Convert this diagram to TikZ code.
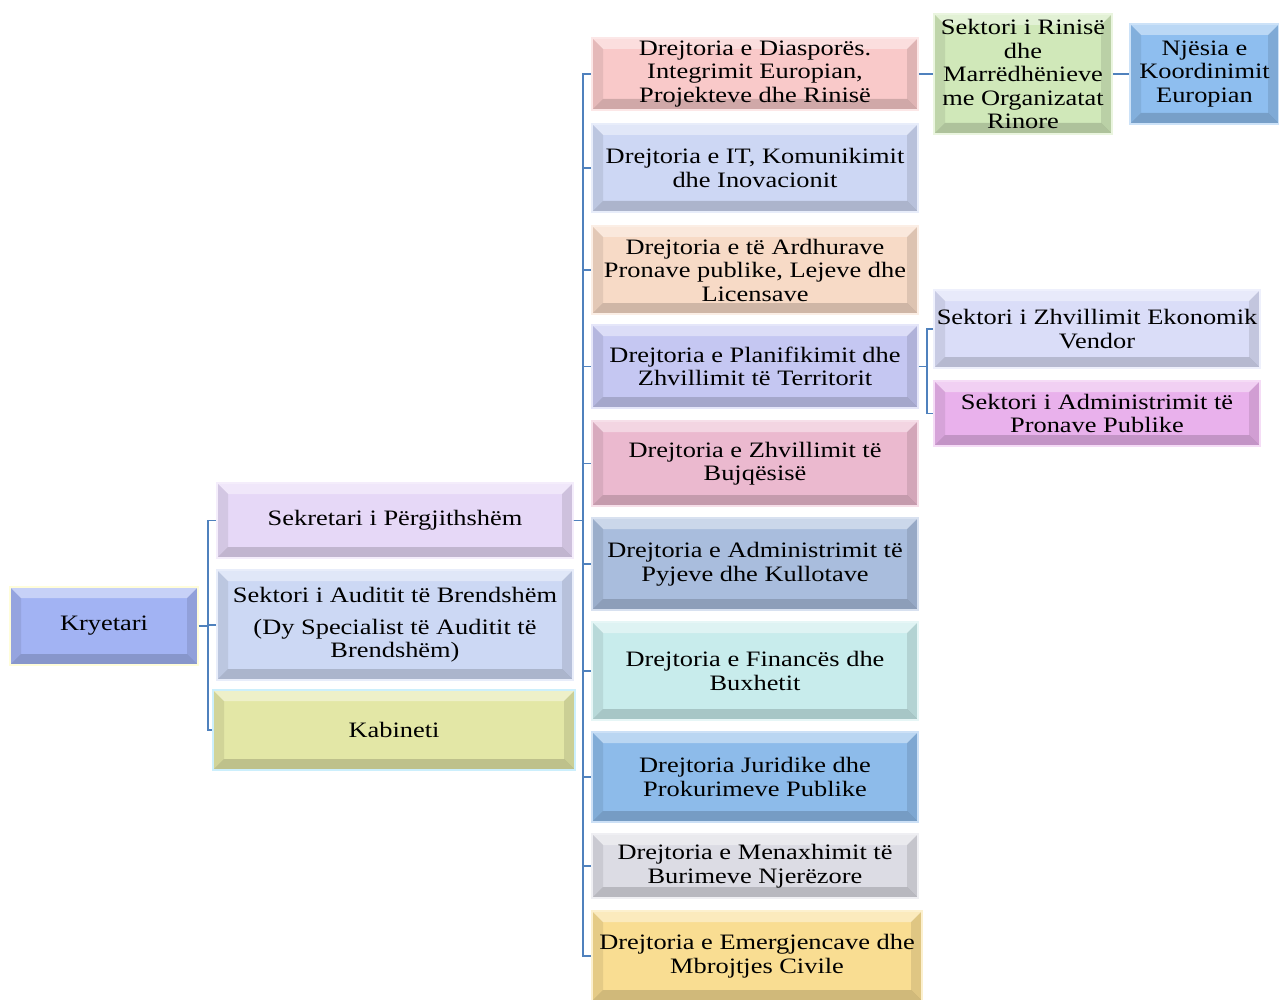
\documentclass[tikz,border=0pt]{standalone}
\usepackage{fontspec}
\setmainfont[FakeStretch=1.2]{Liberation Serif}
\usetikzlibrary{calc}
\definecolor{cblue}{HTML}{4F81BD}
\definecolor{ckry}{HTML}{A2B3F3}
\definecolor{csek}{HTML}{E6D8F7}
\definecolor{caud}{HTML}{CCD8F4}
\definecolor{ckab}{HTML}{E3E7A6}
\definecolor{cdA}{HTML}{F9C9C9}
\definecolor{cdB}{HTML}{CDD7F4}
\definecolor{cdC}{HTML}{F7DAC6}
\definecolor{cdD}{HTML}{C5C7F2}
\definecolor{cdE}{HTML}{EBB9CF}
\definecolor{cdF}{HTML}{A9BDDD}
\definecolor{cdG}{HTML}{C8ECEC}
\definecolor{cdH}{HTML}{8DBBEA}
\definecolor{cdI}{HTML}{DCDCE4}
\definecolor{cdJ}{HTML}{F9DD92}
\definecolor{crin}{HTML}{D0E8B9}
\definecolor{cnje}{HTML}{8EBEEF}
\definecolor{czh}{HTML}{DADDF8}
\definecolor{cadm}{HTML}{E9B1EC}
\newcommand\mybevel{%
 \fill[white,opacity=.4] (path picture bounding box.north west) -- (path picture bounding box.north east) -- ([xshift=-11pt,yshift=-11pt]path picture bounding box.north east) -- ([xshift=11pt,yshift=-11pt]path picture bounding box.north west) -- cycle;
 \fill[black,opacity=.08] (path picture bounding box.north west) -- ([xshift=11pt,yshift=-11pt]path picture bounding box.north west) -- ([xshift=11pt,yshift=11pt]path picture bounding box.south west) -- (path picture bounding box.south west) -- cycle;
 \fill[black,opacity=.1] (path picture bounding box.north east) -- ([xshift=-11pt,yshift=-11pt]path picture bounding box.north east) -- ([xshift=-11pt,yshift=11pt]path picture bounding box.south east) -- (path picture bounding box.south east) -- cycle;
 \fill[black,opacity=.16] (path picture bounding box.south west) -- ([xshift=11pt,yshift=11pt]path picture bounding box.south west) -- ([xshift=-11pt,yshift=11pt]path picture bounding box.south east) -- (path picture bounding box.south east) -- cycle;
}
\tikzset{
 bx/.style={fill=#1, draw=#1!45!white, line width=1.5pt, inner sep=0pt, align=center,
   font=\fontsize{22}{23.5}\selectfont, path picture={\mybevel}},
 conn/.style={draw=cblue, line width=1.8pt}
}
\begin{document}
\begin{tikzpicture}[x=1pt,y=-1pt]
\useasboundingbox[fill=white] (0,0) rectangle (1279,1000);
% left column
\node[bx=ckry, draw=yellow!15!white, minimum width=188pt, minimum height=78pt] (kry) at (104,626) {Kryetari};
\node[bx=csek, minimum width=356pt, minimum height=75pt] (sek) at (395,520.5) {Sekretari i Përgjithshëm};
\node[bx=caud, minimum width=356pt, minimum height=110pt] (aud) at (395,625) {Sektori i Auditit të Brendshëm\\[8pt](Dy Specialist të Auditit të\\Brendshëm)};
\node[bx=ckab, draw=cyan!20!white, minimum width=362pt, minimum height=80pt] (kab) at (394,730) {Kabineti};
% right column
\node[bx=cdA, minimum width=326pt, minimum height=72pt] (dA) at (755,74) {Drejtoria e Diasporës.\\Integrimit Europian,\\Projekteve dhe Rinisë};
\node[bx=cdB, minimum width=326pt, minimum height=88pt] (dB) at (755,168) {Drejtoria e IT, Komunikimit\\dhe Inovacionit};
\node[bx=cdC, minimum width=326pt, minimum height=88pt] (dC) at (755,270) {Drejtoria e të Ardhurave\\Pronave publike, Lejeve dhe\\Licensave};
\node[bx=cdD, minimum width=326pt, minimum height=83pt] (dD) at (755,366.5) {Drejtoria e Planifikimit dhe\\Zhvillimit të Territorit};
\node[bx=cdE, minimum width=326pt, minimum height=85pt] (dE) at (755,463.5) {Drejtoria e Zhvillimit të\\Bujqësisë};
\node[bx=cdF, minimum width=326pt, minimum height=92pt] (dF) at (755,564) {Drejtoria e Administrimit të\\Pyjeve dhe Kullotave};
\node[bx=cdG, minimum width=326pt, minimum height=98pt] (dG) at (755,671) {Drejtoria e Financës dhe\\Buxhetit};
\node[bx=cdH, minimum width=326pt, minimum height=90pt] (dH) at (755,777) {Drejtoria Juridike dhe\\Prokurimeve Publike};
\node[bx=cdI, minimum width=326pt, minimum height=64pt] (dI) at (755,866) {Drejtoria e Menaxhimit të\\Burimeve Njerëzore};
\node[bx=cdJ, minimum width=330pt, minimum height=90pt] (dJ) at (757,956) {Drejtoria e Emergjencave dhe\\Mbrojtjes Civile};
% far right
\node[bx=crin, minimum width=178pt, minimum height=120pt] (rin) at (1023,74) {Sektori i Rinisë\\dhe\\Marrëdhënieve\\me Organizatat\\Rinore};
\node[bx=cnje, minimum width=149pt, minimum height=100pt] (nje) at (1204.5,74) {Njësia e\\Koordinimit\\Europian};
\node[bx=czh, minimum width=326pt, minimum height=78pt] (zh) at (1097,329) {Sektori i Zhvillimit Ekonomik\\Vendor};
\node[bx=cadm, minimum width=326pt, minimum height=65pt] (adm) at (1097,413.5) {Sektori i Administrimit të\\Pronave Publike};
% connectors
\foreach \t in {sek,aud,kab}{\draw[conn] (kry.east) -- ++(9,0) |- (\t.west);}
\foreach \t in {dA,dB,dC,dD,dE,dF,dG,dH,dI,dJ}{\draw[conn] (sek.east) -- ++(9,0) |- (\t.west);}
\draw[conn] (dA.east) -- (rin.west);
\draw[conn] (rin.east) -- (nje.west);
\foreach \t in {zh,adm}{\draw[conn] (dD.east) -- ++(8,0) |- (\t.west);}
\end{tikzpicture}
\end{document}
